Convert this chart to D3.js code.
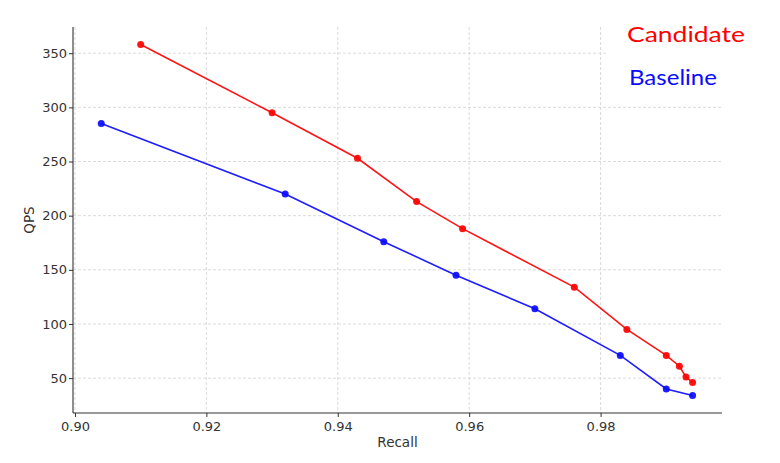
<!DOCTYPE html>
<html><head><meta charset="utf-8">
<script src="https://cdn.jsdelivr.net/npm/d3@7"></script>
<style>body{margin:0;background:#fff}svg{display:block}</style>
</head><body>
<svg id="c" width="780" height="463"></svg>
<script>
const candidateRecall = [0.910, 0.930, 0.943, 0.952, 0.959, 0.976, 0.984, 0.990, 0.992, 0.993, 0.994];
const candidateQPS    = [358, 295, 253, 213, 188, 134, 95, 71, 61, 51, 46];
const baselineRecall  = [0.904, 0.932, 0.947, 0.958, 0.970, 0.983, 0.990, 0.994];
const baselineQPS     = [285, 220, 176, 145, 114, 71, 40, 34];
const xTicks = [0.90, 0.92, 0.94, 0.96, 0.98];
const yTicks = [50, 100, 150, 200, 250, 300, 350];
const seriesNames = ["Candidate", "Baseline"];
const seriesColors = ["#ff0000", "#0a0aff"];

const svg = d3.select("#c");
const L = 73, R = 722, T = 27, B = 413;
const x = d3.scaleLinear().domain([0.8997, 0.99848]).range([L, R]);
const y = d3.scaleLinear().domain([17.8, 374.2]).range([B, T]);

// grid
const g = svg.append("g");
g.selectAll(".vg").data(xTicks).join("line")
  .attr("x1", d => x(d)).attr("x2", d => x(d)).attr("y1", T).attr("y2", B)
  .attr("stroke", "#d0d0d0").attr("stroke-width", 0.8).attr("stroke-dasharray", "3,2");
g.selectAll(".hg").data(yTicks).join("line")
  .attr("x1", L).attr("x2", R).attr("y1", d => y(d)).attr("y2", d => y(d))
  .attr("stroke", "#d0d0d0").attr("stroke-width", 0.8).attr("stroke-dasharray", "3,2");

// series
const series = [
  {name: seriesNames[0], color: seriesColors[0], xs: candidateRecall, ys: candidateQPS},
  {name: seriesNames[1], color: seriesColors[1], xs: baselineRecall, ys: baselineQPS}
];
const line = d3.line().x(d => x(d[0])).y(d => y(d[1]));
series.slice().reverse().forEach(s => {
  const pts = s.xs.map((v, i) => [v, s.ys[i]]);
  svg.append("path").datum(pts).attr("d", line).attr("fill", "none")
    .attr("stroke", s.color).attr("stroke-width", 1.6).attr("opacity", 0.92);
  svg.selectAll(null).data(pts).join("circle")
    .attr("cx", d => x(d[0])).attr("cy", d => y(d[1])).attr("r", 3.5)
    .attr("fill", s.color).attr("opacity", 0.92);
});

// axes
const fontAxis = "'DejaVu Sans', sans-serif";
const xa = svg.append("g").attr("transform", `translate(0,${B})`)
  .call(d3.axisBottom(x).tickValues(xTicks).tickFormat(d3.format(".2f")).tickSize(4).tickSizeOuter(0));
const ya = svg.append("g").attr("transform", `translate(${L},0)`)
  .call(d3.axisLeft(y).tickValues(yTicks).tickSize(4).tickSizeOuter(0));
[xa, ya].forEach(a => {
  a.select(".domain").attr("stroke", "#333").attr("stroke-width", 1.1);
  a.selectAll(".tick line").attr("stroke", "#333");
  a.selectAll("text").attr("fill", "#333").style("font-family", fontAxis).style("font-size", "13px");
});
ya.select(".domain").attr("d", `M0,${B}V${T}`);
xa.select(".domain").attr("d", `M${L},0H${R}`);
xa.selectAll(".tick text").attr("dy", "0.85em");
ya.selectAll(".tick text").attr("x", -6);

svg.append("text").attr("x", (L + R) / 2).attr("y", 447).attr("text-anchor", "middle")
  .attr("fill", "#333").style("font-family", fontAxis).style("font-size", "13.5px").text("Recall");
svg.append("text").attr("transform", `translate(34,${(T + B) / 2}) rotate(-90)`).attr("text-anchor", "middle")
  .attr("fill", "#333").style("font-family", fontAxis).style("font-size", "13.5px").text("QPS");

// legend
svg.append("rect").attr("x", 606).attr("y", 0).attr("width", 174).attr("height", 98).attr("fill", "#fff");
const legPos = [[627, 42, 118], [629, 85, 88]];
series.forEach((s, i) => {
  svg.append("text").attr("x", legPos[i][0]).attr("y", legPos[i][1])
    .attr("textLength", legPos[i][2]).attr("lengthAdjust", "spacingAndGlyphs")
    .attr("fill", s.color).style("font-family", "'Comic Sans MS', Lato, sans-serif")
    .style("font-size", "22px").text(s.name);
});
</script>
</body></html>
